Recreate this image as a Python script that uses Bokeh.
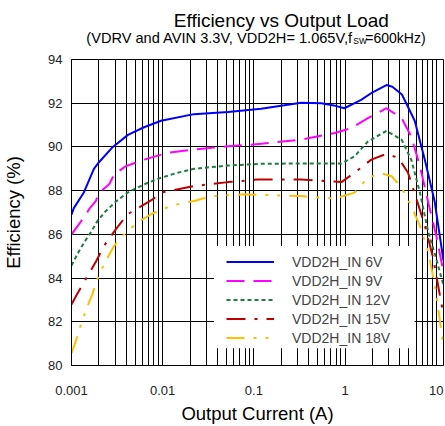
from bokeh.plotting import figure
from bokeh.layouts import column
from bokeh.models import (Range1d, FixedTicker, CustomJSTickFormatter, Legend,
                          LegendItem, BoxAnnotation)
from bokeh.core.properties import value
from bokeh.embed import file_html
from bokeh.resources import INLINE

FONT = "Liberation Sans"

# ---------------- data ----------------
load_6v = [0.001, 0.00106, 0.00136, 0.00176, 0.002, 0.00284, 0.00416, 0.00624, 0.0096,
           0.022, 0.052, 0.12, 0.33, 0.55, 0.75, 0.98, 1.5, 2.0, 2.84, 3.3, 4.2, 5.8,
           7.5, 9.6, 12]
eff_6v = [86.9, 87.2, 87.9, 89.0, 89.3, 90.0, 90.55, 90.9, 91.2,
          91.5, 91.6, 91.75, 92.02, 92.0, 91.9, 91.77, 92.15, 92.5, 92.83, 92.75, 92.4, 91.2,
          89.4, 87.5, 84.8]

load_9v = [0.001, 0.00121, 0.00144, 0.00156, 0.00185, 0.00201, 0.00259, 0.00294, 0.00395,
           0.00627, 0.0113, 0.0222, 0.0518, 0.0933, 0.331, 0.77, 1.17, 1.78, 2.84, 4.17,
           5.31, 6.62, 8.18, 10.0, 12]
eff_9v = [86.0, 86.47, 86.92, 87.15, 87.53, 87.9, 88.29, 88.74, 89.12,
          89.42, 89.73, 89.88, 90.03, 90.1, 90.33, 90.64, 90.86, 91.32, 91.77, 91.32,
          90.48, 89.12, 87.45, 85.94, 84.27]

load_12v = [0.001, 0.00116, 0.00138, 0.00163, 0.00193, 0.00238, 0.00307, 0.00412, 0.00627,
            0.00958, 0.0146, 0.0222, 0.0518, 0.12, 0.331, 0.911, 1.27, 1.78, 2.84, 4.17,
            5.31, 6.62, 8.18, 10.0, 12]
eff_12v = [84.57, 85.1, 85.64, 86.09, 86.62, 87.07, 87.5, 87.91, 88.29,
           88.59, 88.82, 89.0, 89.15, 89.23, 89.24, 89.24, 89.57, 90.25, 90.74, 90.33,
           89.42, 87.91, 86.09, 84.88, 83.66]

load_15v = [0.001, 0.00116, 0.00144, 0.00185, 0.00228, 0.00307, 0.00412, 0.00553, 0.00776,
            0.00958, 0.0222, 0.0518, 0.11, 0.331, 0.911, 1.27, 1.94, 2.84, 3.84, 4.90,
            6.08, 7.51, 9.28, 11.3, 12]
eff_15v = [82.79, 83.29, 83.97, 84.75, 85.48, 86.24, 86.92, 87.23, 87.6,
           87.91, 88.21, 88.39, 88.51, 88.51, 88.39, 88.82, 89.42, 89.68, 89.5, 88.82,
           87.6, 86.39, 84.88, 82.9, 82.3]

load_18v = [0.001, 0.00111, 0.00121, 0.00144, 0.0017, 0.00193, 0.00228, 0.00294, 0.00379,
            0.00531, 0.00744, 0.00958, 0.0134, 0.0222, 0.0339, 0.0787, 0.331, 0.77, 1.27,
            1.78, 2.50, 3.24, 4.17, 5.31, 6.62, 8.18, 10.0, 11.0, 12]
eff_18v = [80.56, 81.09, 81.62, 82.53, 83.29, 83.97, 84.65, 85.48, 86.01,
           86.55, 86.92, 87.12, 87.35, 87.53, 87.75, 87.83, 87.75, 87.64, 87.91,
           88.59, 88.79, 88.66, 88.14, 87.3, 86.39, 85.18, 83.3, 82.0, 80.9]

series_names = ["VDD2H_IN 6V", "VDD2H_IN 9V", "VDD2H_IN 12V", "VDD2H_IN 15V", "VDD2H_IN 18V"]
series_loads = [load_6v, load_9v, load_12v, load_15v, load_18v]
series_effs = [eff_6v, eff_9v, eff_12v, eff_15v, eff_18v]

x_tick_values = [0.001, 0.01, 0.1, 1, 10]
y_tick_values = [80, 82, 84, 86, 88, 90, 92, 94]

title_text = "Efficiency vs Output Load"
subtitle_main = "(VDRV and AVIN 3.3V, VDD2H= 1.065V,f"
subtitle_sub = "SW"
subtitle_end = "=600kHz)"
x_label = "Output Current (A)"
y_label = "Efficiency (%)"

# ---------------- styles ----------------
colors = ["#0000FF", "#FF00FF", "#1A7F3F", "#C00000", "#FFC000"]
dashes = ["solid", "18 9", "4 3", "19 9 3 9", "18 9 3 9 3 9"]

x_minor = [m * 10.0 ** e for e in range(-3, 1) for m in range(2, 10)]

HEAD_H = 48

# ---------------- header (titles) ----------------
head = figure(width=445, height=HEAD_H, x_range=Range1d(0, 445), y_range=Range1d(HEAD_H, 0),
              output_backend="svg", toolbar_location=None,
              x_axis_location=None, y_axis_location=None,
              min_border_left=0, min_border_right=0, min_border_top=0, min_border_bottom=0)
head.outline_line_color = None
head.grid.visible = False
head.background_fill_color = "white"
head.border_fill_color = "white"

head.text(x=[251], y=[19.5], text=[title_text], text_align="center", text_baseline="middle",
          text_font=value(FONT), text_font_size="19px", text_color="black")
head.text(x=[336.5], y=[37], text=[subtitle_main], text_align="right", text_baseline="middle",
          text_font=value(FONT), text_font_size="14.6px", text_color="black")
head.text(x=[337], y=[40.5], text=[subtitle_sub], text_align="left", text_baseline="middle",
          text_font=value(FONT), text_font_size="8.5px", text_color="black")
head.text(x=[351.5], y=[37], text=[subtitle_end], text_align="left", text_baseline="middle",
          text_font=value(FONT), text_font_size="14px", text_color="black")

# ---------------- main chart ----------------
p = figure(width=445, height=426 - HEAD_H, x_axis_type="log",
           x_range=Range1d(0.001, 12), y_range=Range1d(80, 94),
           output_backend="svg", toolbar_location=None,
           min_border_left=71, min_border_right=2, min_border_top=59 - HEAD_H,
           min_border_bottom=59)
p.background_fill_color = "white"
p.border_fill_color = "white"
p.outline_line_color = "black"
p.outline_line_width = 1

xt = FixedTicker(ticks=x_tick_values, minor_ticks=x_minor)
p.xaxis.ticker = xt
p.xgrid.ticker = xt
p.xgrid.grid_line_color = "black"
p.xgrid.grid_line_alpha = 1
p.xgrid.minor_grid_line_color = "black"
p.xgrid.minor_grid_line_alpha = 1

yt = FixedTicker(ticks=y_tick_values)
p.yaxis.ticker = yt
p.ygrid.ticker = yt
p.ygrid.grid_line_color = "black"
p.ygrid.grid_line_alpha = 1

p.xaxis.formatter = CustomJSTickFormatter(code="return String(Number(tick.toPrecision(3)));")

for ax in (p.xaxis, p.yaxis):
    ax.axis_line_color = "black"
    ax.major_tick_line_color = None
    ax.minor_tick_line_color = None
    ax.major_tick_out = 0
    ax.major_tick_in = 0
    ax.minor_tick_out = 0
    ax.minor_tick_in = 0
    ax.major_label_text_font = FONT
    ax.major_label_text_font_size = "13px"
    ax.major_label_text_color = "#222222"
    ax.axis_label_text_font = FONT
    ax.axis_label_text_font_size = "18.5px"
    ax.axis_label_text_font_style = "normal"
    ax.axis_label_text_color = "black"

p.xaxis.axis_label = x_label
p.yaxis.axis_label = y_label
p.xaxis.major_label_standoff = 20
p.xaxis.axis_label_standoff = 5
p.yaxis.major_label_standoff = 9
p.yaxis.axis_label_standoff = 21

# white box behind the legend (hides grid lines)
p.add_layout(BoxAnnotation(left=0.0366, right=5.77, bottom=80.79, top=85.47,
                           fill_color="white", fill_alpha=1, line_alpha=0))

items = []
for name, xs, ys, c, d in zip(series_names, series_loads, series_effs, colors, dashes):
    r = p.line(xs, ys, line_color=c, line_width=2, line_dash=d)
    items.append(LegendItem(label=name, renderers=[r]))

legend = Legend(items=items, location=(151, 14), padding=4, spacing=0, margin=0,
                label_height=19, glyph_height=19, glyph_width=48, label_standoff=18,
                background_fill_alpha=0, border_line_alpha=0,
                label_text_font=FONT, label_text_font_size="14px")
p.add_layout(legend)

layout = column(head, p, spacing=0)
open("out.html", "w").write(file_html(layout, INLINE))
